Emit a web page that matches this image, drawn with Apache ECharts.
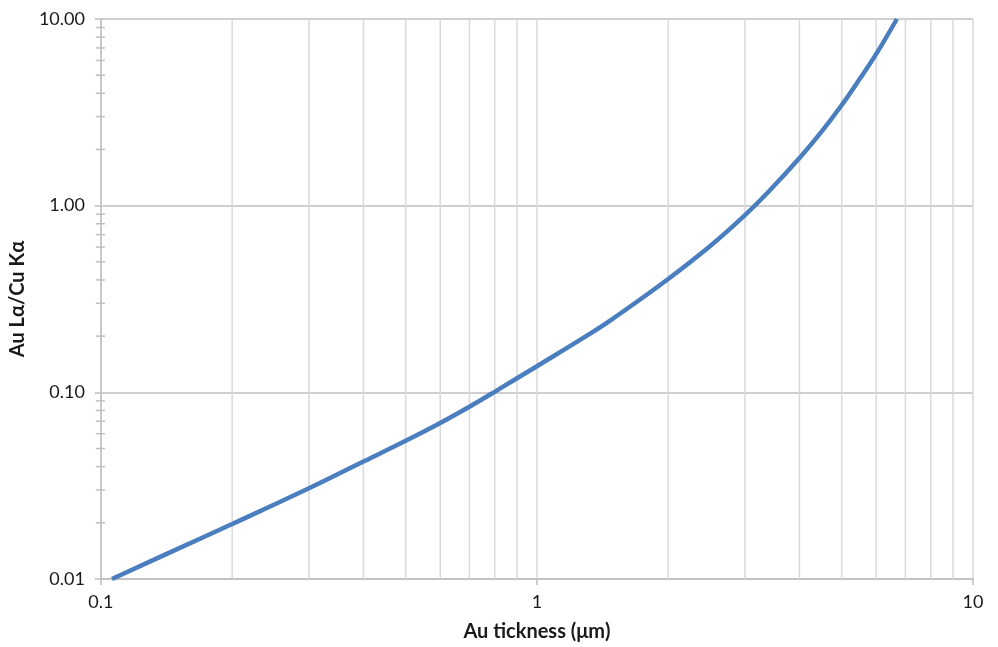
<!DOCTYPE html>
<html>
<head>
<meta charset="utf-8">
<style>
  html, body { margin: 0; padding: 0; background: #ffffff; }
  #chart { width: 998px; height: 647px; }
</style>
<script src="https://cdn.jsdelivr.net/npm/echarts@6/dist/echarts.min.js"></script>
</head>
<body>
<div id="chart"></div>
<script>
// Au coating thickness (µm) and the measured Au Lα / Cu Kα intensity ratio
const thickness = [0.106, 0.15, 0.2, 0.3, 0.4, 0.5, 0.6, 0.7, 0.8, 0.9, 1.0, 1.31, 1.5, 2.0, 2.5, 3.0, 3.4, 4.0, 4.5, 5.0, 5.5, 6.0, 6.69];
const ratio     = [0.01, 0.0145, 0.0197, 0.0306, 0.0426, 0.055, 0.0685, 0.0837, 0.1006, 0.119, 0.138, 0.203, 0.25, 0.405, 0.61, 0.89, 1.19, 1.80, 2.50, 3.46, 4.78, 6.5, 10.0];

// Axis ranges
const xRange = [0.1, 10];
const yRange = [0.01, 10];

// Minor (2..9 per decade) positions on each log axis
const xMinor = [0.2, 0.3, 0.4, 0.5, 0.6, 0.7, 0.8, 0.9, 2, 3, 4, 5, 6, 7, 8, 9];
const yMinor = [0.02, 0.03, 0.04, 0.05, 0.06, 0.07, 0.08, 0.09,
                0.2, 0.3, 0.4, 0.5, 0.6, 0.7, 0.8, 0.9,
                2, 3, 4, 5, 6, 7, 8, 9];

const FONT = 'Lato';
const chart = echarts.init(document.getElementById('chart'), null, { renderer: 'canvas' });

chart.setOption({
  animation: false,
  backgroundColor: '#ffffff',
  grid: { left: 99, right: 25, top: 19, bottom: 66, containLabel: false },
  xAxis: {
    type: 'log',
    logBase: 10,
    min: xRange[0],
    max: xRange[1],
    name: 'Au tickness (\u03bcm)',
    nameLocation: 'middle',
    nameGap: 43,
    nameTextStyle: { fontFamily: FONT, fontSize: 20, fontWeight: 'bold', color: '#1a1a1a' },
    axisLine: { show: true, lineStyle: { color: '#bfbfbf', width: 1.5 } },
    axisTick: { show: true, length: 6, lineStyle: { color: '#bfbfbf', width: 1.5 } },
    axisLabel: {
      fontFamily: FONT, fontSize: 18, color: '#1a1a1a', margin: 14,
      formatter: v => String(v)
    },
    splitLine: { show: true, lineStyle: { color: '#d9d9d9', width: 1.5 } }
  },
  yAxis: {
    type: 'log',
    logBase: 10,
    min: yRange[0],
    max: yRange[1],
    name: 'Au L\u03b1/Cu K\u03b1',
    nameLocation: 'middle',
    nameGap: 72,
    nameTextStyle: { fontFamily: FONT, fontSize: 20, fontWeight: 'bold', color: '#1a1a1a' },
    axisLine: { show: true, lineStyle: { color: '#bfbfbf', width: 1.5 } },
    axisTick: { show: true, length: 6, lineStyle: { color: '#bfbfbf', width: 1.5 } },
    axisLabel: {
      fontFamily: FONT, fontSize: 18, color: '#1a1a1a', margin: 16,
      formatter: v => Number(v).toFixed(2)
    },
    splitLine: { show: true, lineStyle: { color: '#bfbfbf', width: 1.5 } }
  },
  series: [
    {
      // light vertical grid lines at 2..9 within each decade
      type: 'custom',
      silent: true,
      z: 1,
      data: xMinor.map(v => [v, yRange[0]]),
      encode: { x: 0, y: 1 },
      renderItem: (params, api) => {
        const x = api.value(0);
        const bottom = api.coord([x, yRange[0]]);
        const top = api.coord([x, yRange[1]]);
        return {
          type: 'line',
          shape: { x1: bottom[0], y1: bottom[1], x2: top[0], y2: top[1] },
          style: { stroke: '#d9d9d9', lineWidth: 1.5 }
        };
      }
    },
    {
      // minor tick marks crossing the vertical axis
      type: 'custom',
      silent: true,
      z: 3,
      data: yMinor.map(v => [xRange[0], v]),
      encode: { x: 0, y: 1 },
      renderItem: (params, api) => {
        const p = api.coord([xRange[0], api.value(1)]);
        return {
          type: 'line',
          shape: { x1: p[0] - 5, y1: p[1], x2: p[0] + 4, y2: p[1] },
          style: { stroke: '#bfbfbf', lineWidth: 1.5 }
        };
      }
    },
    {
      type: 'line',
      name: 'Au L\u03b1/Cu K\u03b1',
      z: 5,
      data: thickness.map((t, i) => [t, ratio[i]]),
      smooth: 0.4,
      showSymbol: false,
      lineStyle: { color: '#4a7ebf', width: 4.5 },
      clip: true
    }
  ]
});
</script>
</body>
</html>
